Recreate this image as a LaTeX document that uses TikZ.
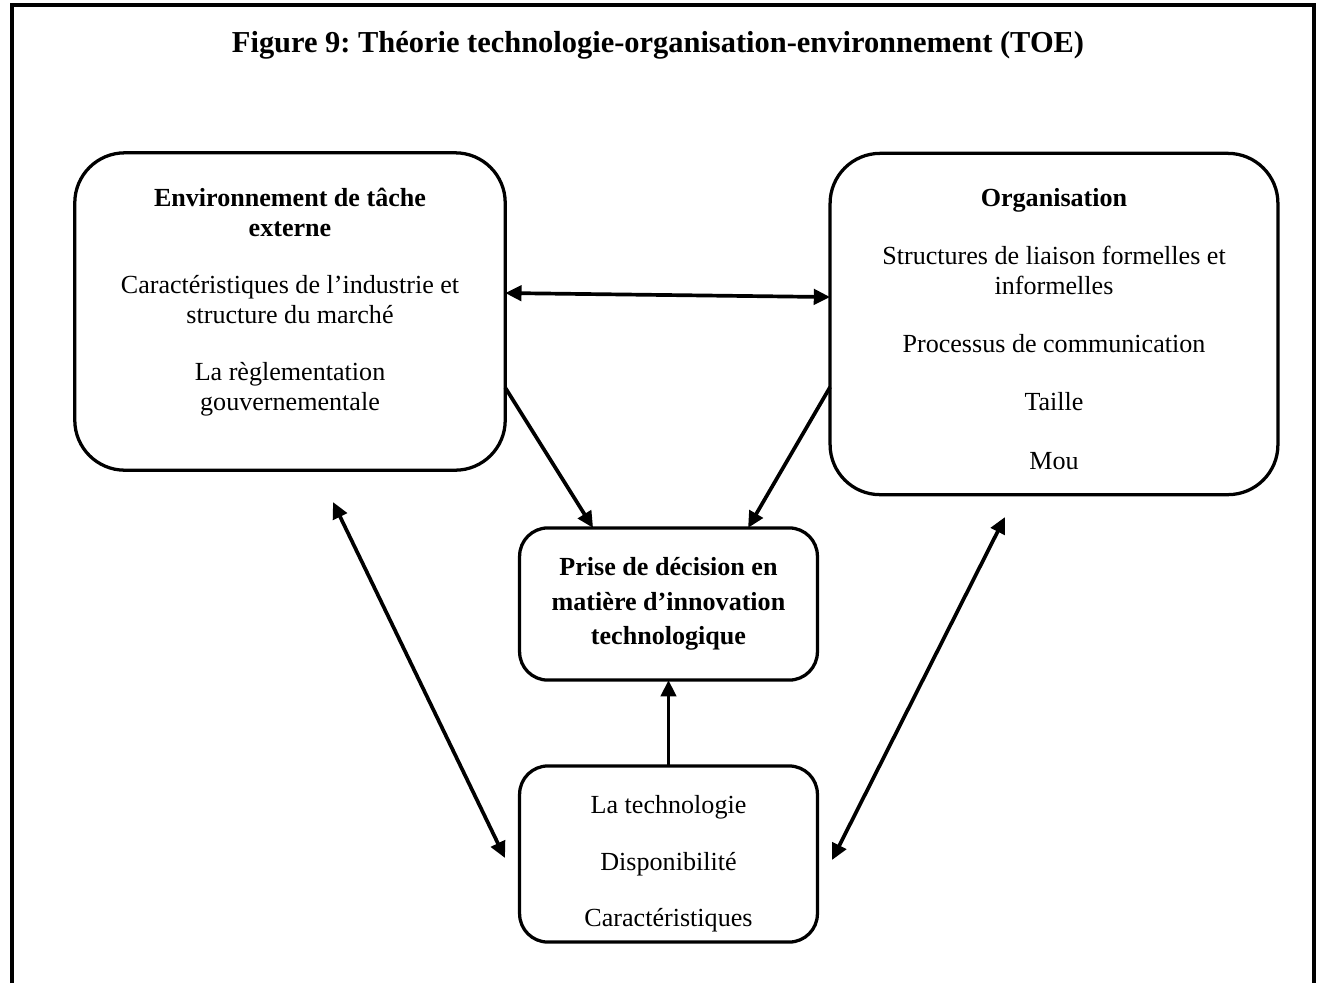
\documentclass[tikz,border=0pt]{standalone}
\usepackage{fontspec}
\setmainfont{Liberation Serif}
\usepackage{tikz}
\usetikzlibrary{arrows.meta}

\tikzset{
  bigbox/.style={draw, line width=1.5pt, rounded corners=23pt,
    inner sep=0pt, outer sep=0pt},
  smallbox/.style={draw, line width=1.5pt, rounded corners=13pt, align=center,
    inner sep=0pt, outer sep=0pt, minimum width=137pt},
  boxtext/.style={align=center, inner sep=0pt, font=\fontsize{12}{14}\selectfont},
  link/.style={line width=1.7pt, -{Triangle[length=7.5pt,width=7pt]}},
  dlink/.style={line width=1.7pt, {Triangle[length=7.5pt,width=7pt]}-{Triangle[length=7.5pt,width=7pt]}}
}

\begin{document}
\frenchspacing
\begin{tikzpicture}[x=0.46pt,y=-0.46pt]
\useasboundingbox (0,0) rectangle (1318,983);
% frame, open at the bottom
\draw[line width=1.8pt] (12,983) -- (12,5) -- (1314,5) -- (1314,983);
\node (title) at (658,45) {\fontsize{14}{16}\selectfont\bfseries Figure 9: Théorie technologie-organisation-environnement (TOE)};

% the four blocks
\node[bigbox, minimum width=198pt, minimum height=146pt] (env) at (290,311.5) {};
\node[boxtext] (envtxt) at ([yshift=4.3pt]env.center)
  {\textbf{Environnement de tâche}\\\textbf{externe}\\[12pt]
   Caractéristiques de l’industrie et\\structure du marché\\[12pt]
   La règlementation\\gouvernementale};
\node[bigbox, minimum width=206pt, minimum height=157pt] (org) at (1054,324) {};
\node[boxtext] (orgtxt) at ([yshift=-2.2pt]org.center)
  {\textbf{Organisation}\\[12.7pt]
   Structures de liaison formelles et\\informelles\\[12.7pt]
   Processus de communication\\[12.7pt]
   Taille\\[12.7pt]
   Mou};
\node[smallbox, minimum height=70pt, font=\fontsize{12}{16}\selectfont\bfseries] (dec) at (668.5,604)
  {Prise de décision en\\matière d’innovation\\technologique};
\node[smallbox, minimum height=81pt] (tech) at (668.5,854) {};
\node[boxtext] (techtxt) at ([yshift=-4.6pt]tech.center)
  {La technologie\\[12pt]Disponibilité\\[12pt]Caractéristiques};

% free ends of the long arrows
\coordinate (lt) at (333,502);
\coordinate (lb) at (505,858);
\coordinate (rt) at (1005,517);
\coordinate (rb) at (832,860);

\draw[dlink] ([yshift=8.5pt]env.east) -- ([yshift=12.4pt]org.west);
\draw[link] ([yshift=-35pt]env.east) -- ([xshift=-34.7pt]dec.north);
\draw[link] ([yshift=-29pt]org.west) -- ([xshift=36.6pt]dec.north);
\draw[link] (tech.north) -- (dec.south);
\draw[dlink] (lt) -- (lb);
\draw[dlink] (rt) -- (rb);
\end{tikzpicture}
\end{document}
